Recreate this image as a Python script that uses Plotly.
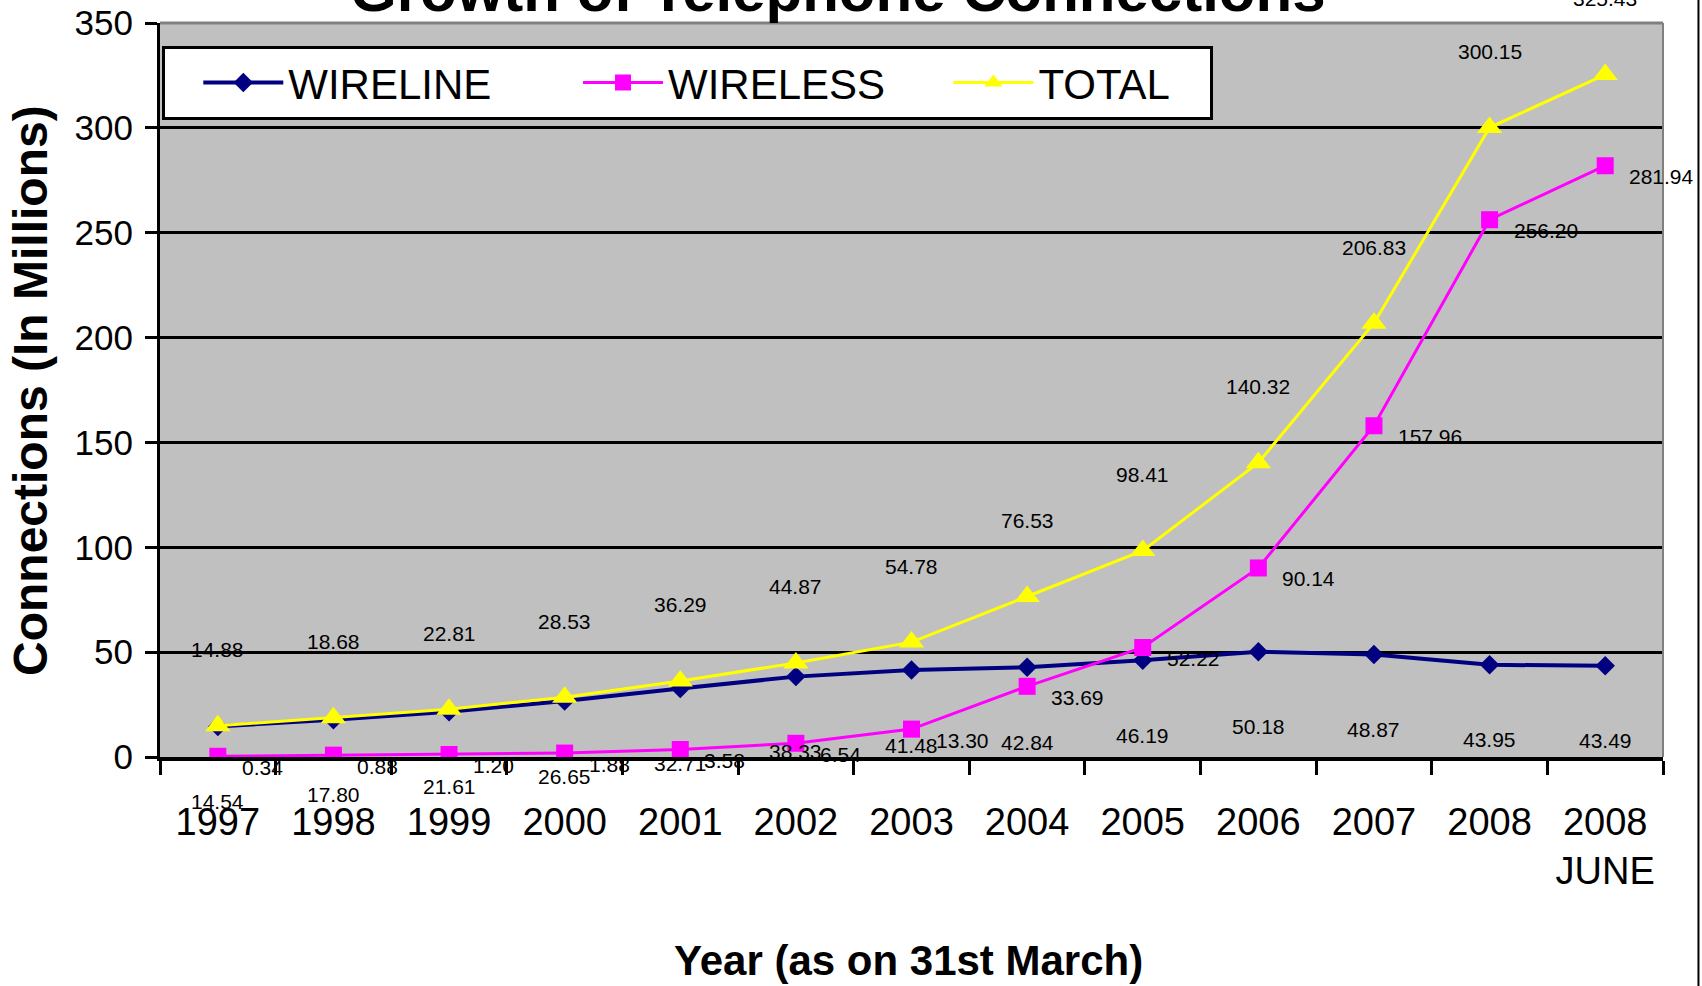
import plotly.graph_objects as go

# Telephone connections in India (millions), as on 31st March
years = ["1997", "1998", "1999", "2000", "2001", "2002", "2003",
         "2004", "2005", "2006", "2007", "2008", "2008<br>JUNE"]
wireline = [14.54, 17.80, 21.61, 26.65, 32.71, 38.33, 41.48,
            42.84, 46.19, 50.18, 48.87, 43.95, 43.49]
wireless = [0.34, 0.88, 1.20, 1.88, 3.58, 6.54, 13.30,
            33.69, 52.22, 90.14, 157.96, 256.20, 281.94]
total = [14.88, 18.68, 22.81, 28.53, 36.29, 44.87, 54.78,
         76.53, 98.41, 140.32, 206.83, 300.15, 325.43]

FONT = "Liberation Sans, Arial, sans-serif"
NBSP = "\u00a0"

xpos = list(range(len(years)))

fig = go.Figure()
fig.add_trace(go.Scatter(
    x=xpos, y=wireline, name="WIRELINE" + NBSP * 7, mode="lines+markers",
    line=dict(color="#000080", width=4),
    marker=dict(symbol="diamond", size=15, color="#000080")))
fig.add_trace(go.Scatter(
    x=xpos, y=wireless, name="WIRELESS" + NBSP * 5, mode="lines+markers",
    line=dict(color="#FF00FF", width=3),
    marker=dict(symbol="square", size=17, color="#FF00FF")))
fig.add_trace(go.Scatter(
    x=xpos, y=total, name="TOTAL" + NBSP * 3, mode="lines+markers",
    line=dict(color="#FFFF00", width=3),
    marker=dict(symbol="triangle-up", size=22, color="#FFFF00")))

label_font = dict(family=FONT, size=21, color="black")
annotations = []
for i in xpos:
    annotations.append(dict(x=i, y=total[i], text=f"{total[i]:.2f}",
                            showarrow=False, yshift=76, font=label_font))
    annotations.append(dict(x=i, y=wireline[i], text=f"{wireline[i]:.2f}",
                            showarrow=False, yshift=-75, font=label_font))
    annotations.append(dict(x=i, y=wireless[i], text=f"{wireless[i]:.2f}",
                            showarrow=False, xanchor="left", xshift=22,
                            yshift=-11, font=label_font))

# Titles
annotations.append(dict(text="<b>Growth of Telephone Connections</b>",
                        xref="paper", yref="paper", x=0.451, y=1.0436,
                        xanchor="center", yanchor="middle", showarrow=False,
                        font=dict(family=FONT, size=60, color="black")))
annotations.append(dict(text="<b>Year (as on 31st March)</b>",
                        xref="paper", yref="paper", x=0.498, y=-0.277,
                        xanchor="center", yanchor="middle", showarrow=False,
                        font=dict(family=FONT, size=42, color="black")))
annotations.append(dict(text="<b>Connections (In Millions)</b>",
                        xref="paper", yref="paper", x=-0.0865, y=0.5,
                        xanchor="center", yanchor="middle", showarrow=False,
                        textangle=-90,
                        font=dict(family=FONT, size=48, color="black")))

shapes = [
    # plot frame: grey top and right edges
    dict(type="line", xref="paper", yref="paper", x0=0, x1=1, y0=1, y1=1,
         line=dict(color="#808080", width=3), layer="above"),
    dict(type="line", xref="paper", yref="paper", x0=1, x1=1, y0=0, y1=1,
         line=dict(color="#808080", width=2), layer="above"),
    # outer page rule on the right
    dict(type="line", xref="paper", yref="paper", x0=1.0236, x1=1.0236,
         y0=-0.32, y1=1.04, line=dict(color="black", width=2)),
]

fig.update_layout(
    width=1702, height=986,
    margin=dict(l=160, r=39, t=23, b=229, autoexpand=False),
    paper_bgcolor="white", plot_bgcolor="#C0C0C0",
    showlegend=True,
    legend=dict(orientation="h", x=0.0013, y=0.969, xanchor="left",
                yanchor="top", bgcolor="white", bordercolor="black",
                borderwidth=3, font=dict(family=FONT, size=42, color="black"),
                itemwidth=80,
                title=dict(text=NBSP * 2, font=dict(family=FONT, size=42))),
    annotations=annotations, shapes=shapes,
)
fig.update_xaxes(
    range=[-0.5, len(years) - 0.5], tickmode="array", tickvals=xpos,
    ticktext=years, ticks="", ticklabelstandoff=28, automargin=False,
    tickfont=dict(family=FONT, size=38, color="black"),
    showgrid=False, zeroline=False,
    showline=True, linecolor="black", linewidth=4,
    minor=dict(tickmode="linear", tick0=-0.5, dtick=1, ticks="outside",
               ticklen=14, tickwidth=3, tickcolor="black", showgrid=False),
)
fig.update_yaxes(
    range=[0, 350], tickmode="linear", tick0=0, dtick=50,
    ticks="outside", ticklen=12, tickwidth=3, tickcolor="black",
    ticklabelstandoff=5, automargin=False,
    tickfont=dict(family=FONT, size=35, color="black"),
    showgrid=True, gridcolor="black", gridwidth=3, zeroline=False,
    showline=True, linecolor="black", linewidth=3,
)

fig.write_html("out.html")
